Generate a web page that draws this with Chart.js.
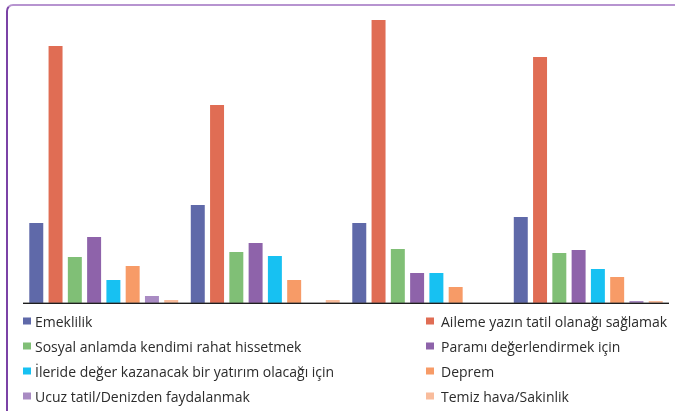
<!DOCTYPE html>
<html>
<head>
<meta charset="utf-8">
<script src="https://cdn.jsdelivr.net/npm/chart.js@4"></script>
<style>
  html, body { margin:0; padding:0; width:675px; height:411px; overflow:hidden; background:#fff; }
  #wrap { position:relative; width:675px; height:411px; }
  #frame { position:absolute; left:6px; top:4px; width:800px; height:500px;
           border-top:2px solid #b794d0; border-left:2px solid #7b42a6;
           border-top-left-radius:7px; box-sizing:border-box; }
  canvas { position:absolute; left:0; top:0; }
  .lg { position:absolute; font-family:"Open Sans", sans-serif; font-size:14px; color:#2b2b2b;
        white-space:nowrap; line-height:18px; transform:translateY(-50%); }
  .sw { position:absolute; width:8px; height:7px; transform:translateY(-50%); }
</style>
</head>
<body>
<div id="wrap">
  <div id="frame"></div>
  <canvas id="c" width="675" height="411"></canvas>
  <div id="legend"></div>
</div>
<script>
const categories = ["1", "2", "3", "4"];
const seriesNames = [
  "Emeklilik",
  "Aileme yazın tatil olanağı sağlamak",
  "Sosyal anlamda kendimi rahat hissetmek",
  "Paramı değerlendirmek için",
  "İleride değer kazanacak bir yatırım olacağı için",
  "Deprem",
  "Ucuz tatil/Denizden faydalanmak",
  "Temiz hava/Sakinlik"
];
const seriesColors = ["#5f69a9", "#e06d54", "#80bf76", "#8e63aa", "#17c1f2", "#f79b67", "#a98bc3", "#f9bc9c"];
const emeklilik = [80, 98, 80, 86];
const aileme    = [257, 198, 283, 246];
const sosyal    = [46, 51, 54, 50];
const parami    = [66, 60, 30, 53];
const ileride   = [23, 47, 30, 34];
const deprem    = [37, 23, 16, 26];
const ucuz      = [7, 0, 0, 2];
const temiz     = [3, 3, 0, 2];
const seriesValues = [emeklilik, aileme, sosyal, parami, ileride, deprem, ucuz, temiz];

const baseline = {
  id: 'baseline',
  afterDatasetsDraw(chart) {
    const ctx = chart.ctx, a = chart.chartArea;
    const y = chart.scales.y.getPixelForValue(0);
    ctx.save();
    ctx.lineWidth = 1;
    ctx.strokeStyle = 'rgba(60,60,60,0.45)';
    ctx.beginPath(); ctx.moveTo(a.left, y - 0.5); ctx.lineTo(a.right, y - 0.5); ctx.stroke();
    ctx.strokeStyle = '#1e1e1e';
    ctx.beginPath(); ctx.moveTo(a.left, y + 0.5); ctx.lineTo(a.right, y + 0.5); ctx.stroke();
    ctx.restore();
  }
};

const chart = new Chart(document.getElementById('c'), {
  type: 'bar',
  data: {
    labels: categories,
    datasets: seriesNames.map((n, i) => ({
      label: n, data: seriesValues[i], backgroundColor: seriesColors[i], borderWidth: 0,
      barPercentage: 0.725, categoryPercentage: 0.955
    }))
  },
  options: {
    responsive: false, animation: false, devicePixelRatio: 1,
    layout: { padding: { left: 23, right: 6, top: 3, bottom: 108 } },
    plugins: { legend: { display: false }, tooltip: { enabled: false } },
    scales: {
      x: { display: false },
      y: { display: false, min: 0, max: 300 }
    }
  },
  plugins: [baseline]
});

// HTML legend in two columns
const lg = document.getElementById('legend');
const rowsY = [321, 346, 371, 396];
seriesNames.forEach((n, i) => {
  const col = i % 2, row = Math.floor(i / 2);
  const sw = document.createElement('div');
  sw.className = 'sw';
  sw.style.left = (col ? 426 : 23) + 'px';
  sw.style.top = rowsY[row] + 'px';
  sw.style.background = seriesColors[i];
  lg.appendChild(sw);
  const t = document.createElement('div');
  t.className = 'lg';
  t.style.left = (col ? 441 : 35) + 'px';
  t.style.top = (rowsY[row] + 1) + 'px';
  t.textContent = n;
  lg.appendChild(t);
});
</script>
</body>
</html>
